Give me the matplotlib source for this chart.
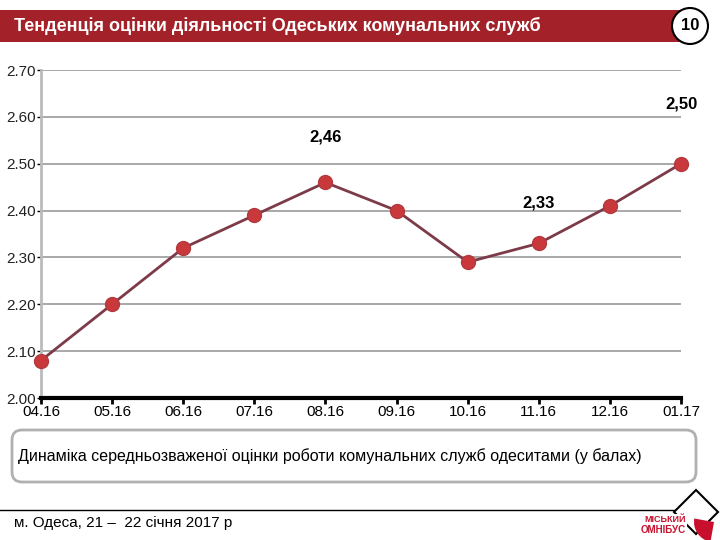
import matplotlib
matplotlib.use("Agg")
import matplotlib.pyplot as plt
from matplotlib.patches import Rectangle, FancyBboxPatch, Circle, Polygon, Wedge

plt.rcParams['font.family'] = ['Liberation Sans', 'DejaVu Sans']

# data
months = ["04.16", "05.16", "06.16", "07.16", "08.16", "09.16", "10.16", "11.16", "12.16", "01.17"]
scores = [2.08, 2.20, 2.32, 2.39, 2.46, 2.40, 2.29, 2.33, 2.41, 2.50]
label_idx = [4, 7, 9]
label_txt = ["2,46", "2,33", "2,50"]
label_y = [2.556, 2.416, 2.627]
yticks = [2.00, 2.10, 2.20, 2.30, 2.40, 2.50, 2.60, 2.70]

fig = plt.figure(figsize=(7.2, 5.4), dpi=100)

# overlay axes in pixel coords for the decorations
ax_c = fig.add_axes([0, 0, 1, 1], facecolor="none")
ax_c.set_xlim(0, 720)
ax_c.set_ylim(540, 0)
ax_c.axis("off")

# title bar
ax_c.add_patch(Rectangle((0, 10), 700, 32, facecolor="#a3222a", edgecolor="none"))
ax_c.text(14, 26, "Тенденція оцінки діяльності Одеських комунальних служб",
          color="white", fontsize=13, fontweight="bold", va="center", ha="left")
ax_c.add_patch(Circle((690, 26), 18, facecolor="white", edgecolor="black", lw=1.5, zorder=3))
ax_c.text(690, 26, "10", ha="center", va="center", fontsize=12, fontweight="bold", zorder=4)

# chart
ax = fig.add_axes([41/720, 1 - 398/540, 640/720, 328/540])
x = list(range(len(months)))
ax.plot(x, scores, color="#7d3a48", lw=2, marker="o", markersize=10,
        markerfacecolor="#c9393c", markeredgecolor="#b23a3e", zorder=3, clip_on=False)
for i, t, ly in zip(label_idx, label_txt, label_y):
    ax.text(i, ly, t, ha="center", va="center", fontsize=12, fontweight="bold")
ax.set_xlim(0, len(months) - 1)
ax.set_ylim(2.0, 2.7)
ax.set_yticks(yticks)
ax.set_yticklabels([f"{v:.2f}" for v in yticks], fontsize=11, color="#222222")
ax.set_xticks(x)
ax.set_xticklabels(months, fontsize=11)
ax.grid(axis="y", color="#999999", lw=1.2)
ax.set_axisbelow(True)
for s in ["top", "right"]:
    ax.spines[s].set_visible(False)
ax.spines["left"].set_color("#bbbbbb")
ax.spines["left"].set_linewidth(2)
ax.spines["bottom"].set_color("black")
ax.spines["bottom"].set_linewidth(3)
ax.tick_params(axis="x", length=4, width=2, pad=1)
ax.tick_params(axis="y", length=3, width=1, pad=1)

# caption box
ax_c.add_patch(FancyBboxPatch((12, 430), 684, 52, boxstyle="round,pad=0,rounding_size=10",
                              facecolor="white", edgecolor="#b0b0b0", lw=2))
ax_c.text(18, 456, "Динаміка середньозваженої оцінки роботи комунальних служб одеситами (у балах)",
          fontsize=11.5, va="center", ha="left")

# footer
ax_c.plot([0, 688], [510, 510], color="black", lw=1)
ax_c.text(14, 523, "м. Одеса, 21 –  22 січня 2017 р", fontsize=11, va="center", ha="left")
ax_c.add_patch(Polygon([(696, 490), (718, 512), (696, 534), (674, 512)], closed=True,
                       facecolor="white", edgecolor="black", lw=1.5, zorder=3))
ax_c.add_patch(Wedge((714, 522), 20, 100, 190, facecolor="#c8102e", edgecolor="none", zorder=4))
ax_c.add_patch(Rectangle((641, 514), 46, 22, facecolor="white", edgecolor="none", zorder=5))
ax_c.text(686, 520, "МІСЬКИЙ", fontsize=6.5, color="#c8102e", ha="right", va="center",
          fontweight="bold", zorder=6)
ax_c.text(686, 530, "ОМНІБУС", fontsize=7, color="#c8102e", ha="right", va="center",
          fontweight="bold", zorder=6)

fig.savefig("out.png", dpi=100)
